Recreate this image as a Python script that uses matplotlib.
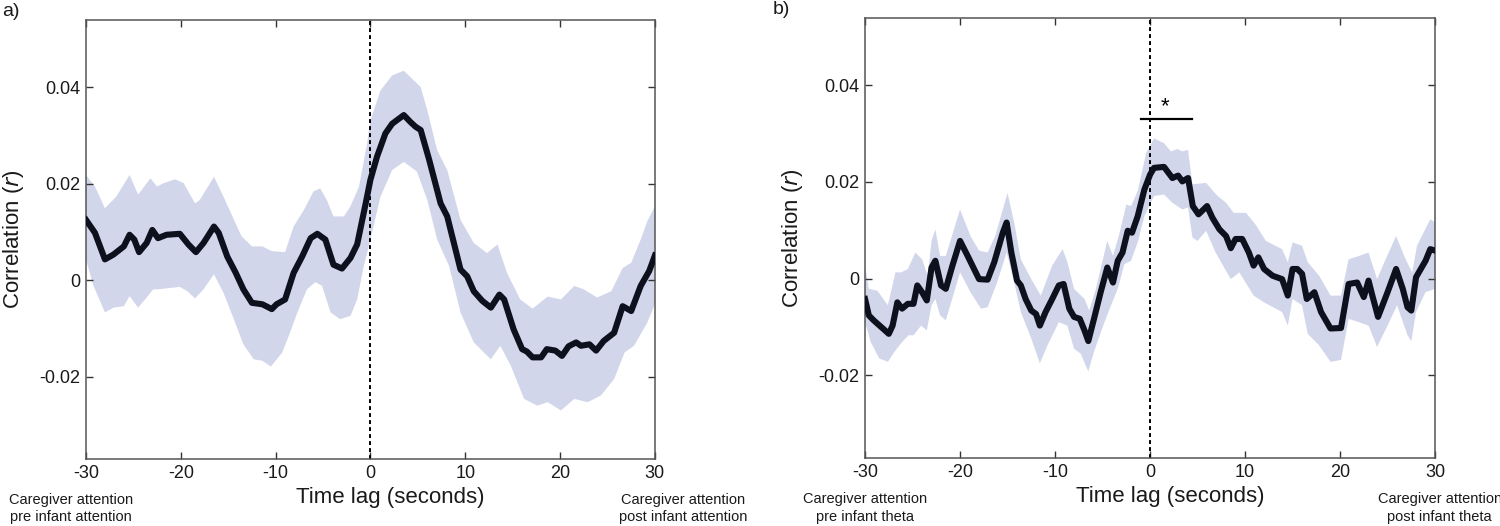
import numpy as np
import matplotlib
matplotlib.use("Agg")
import matplotlib.pyplot as plt
import matplotlib.transforms as mtransforms

plt.rcParams['font.family'] = ['Liberation Sans', 'DejaVu Sans']

# ---- panel a: caregiver attention vs infant attention ----
a_t = [-30, -29.05, -28.0, -27.1, -26.0, -25.4, -24.9, -24.4, -23.6, -23.0, -22.4, -21.5,
       -20.1, -19.2, -18.4, -17.6, -16.5, -16.0, -15.1, -14.2, -13.4, -12.5, -11.4, -10.4,
       -9.9, -9.0, -8.1, -7.2, -6.3, -5.6, -4.75, -3.9, -3.0, -2.1, -1.4, -0.5, 0.0, 0.7,
       1.58, 2.29, 3.52, 4.2, 4.75, 5.3, 6.2, 7.4, 8.1, 9.5, 10.2, 10.9, 11.8, 12.7, 13.6,
       14.1, 15.1, 16.0, 16.5, 17.1, 18.0, 18.6, 19.5, 20.2, 20.9, 21.7, 22.2, 23.1, 23.8,
       24.6, 25.7, 26.6, 27.5, 28.5, 29.4, 30]
a_r = [0.0125, 0.0098, 0.0043, 0.0053, 0.0070, 0.0094, 0.0084, 0.0058, 0.0077, 0.0104,
       0.0087, 0.0094, 0.0096, 0.0074, 0.0058, 0.0077, 0.0111, 0.0098, 0.0049, 0.0015,
       -0.0019, -0.0047, -0.0050, -0.0060, -0.0050, -0.0040, 0.0015, 0.0049, 0.0087, 0.0096,
       0.0084, 0.0032, 0.0024, 0.0046, 0.0074, 0.0159, 0.0208, 0.0256, 0.0304, 0.0324,
       0.0342, 0.0328, 0.0318, 0.0311, 0.0249, 0.0159, 0.0132, 0.0022, 0.0008, -0.0023,
       -0.0043, -0.0057, -0.0030, -0.0040, -0.0102, -0.0143, -0.0148, -0.0160, -0.0160,
       -0.0143, -0.0146, -0.0157, -0.0137, -0.0129, -0.0136, -0.0133, -0.0146, -0.0126,
       -0.0109, -0.0054, -0.0064, -0.0012, 0.0019, 0.0051]

a_up_t = [-30, -29.05, -28.0, -26.8, -25.4, -24.5, -23.2, -22.5, -21.8, -20.6, -19.7, -18.5,
          -18.0, -16.5, -15.5, -13.6, -12.5, -11.4, -10.4, -9.0, -8.1, -7.0, -6.0, -5.3,
          -4.6, -3.9, -2.8, -2.1, -1.2, -0.35, 0.0, 1.06, 2.29, 3.52, 4.4, 5.3, 6.0, 7.04,
          8.1, 9.5, 10.9, 12.3, 13.4, 14.4, 15.8, 17.1, 18.7, 20.1, 21.5, 22.5, 23.9, 25.4,
          26.6, 27.5, 28.5, 29.2, 30]
a_up = [0.0218, 0.0194, 0.0149, 0.0173, 0.0218, 0.0177, 0.0211, 0.0194, 0.0201, 0.0209,
        0.0201, 0.0159, 0.0166, 0.0214, 0.0173, 0.0091, 0.0070, 0.0070, 0.0060, 0.0058,
        0.0111, 0.0146, 0.0184, 0.0190, 0.0166, 0.0132, 0.0132, 0.0153, 0.0194, 0.0283,
        0.0331, 0.0393, 0.0424, 0.0434, 0.0417, 0.0400, 0.0352, 0.0269, 0.0228, 0.0125,
        0.0077, 0.0056, 0.0074, 0.0015, -0.0040, -0.0059, -0.0034, -0.0040, -0.0012,
        -0.0019, -0.0036, -0.0023, 0.0025, 0.0036, 0.0084, 0.0122, 0.0153]

a_lo_t = [-30, -29.2, -28.0, -27.1, -26.0, -25.4, -24.5, -23.6, -22.9, -22.4, -20.1, -19.3,
          -18.5, -17.6, -16.5, -15.5, -14.4, -13.4, -12.3, -11.4, -10.5, -9.3, -8.6, -7.7,
          -6.7, -5.8, -5.1, -4.2, -3.2, -2.1, -1.4, -0.7, 0.0, 1.06, 2.29, 3.52, 4.9, 6.0,
          7.04, 8.3, 9.5, 10.9, 12.7, 13.7, 14.8, 16.2, 17.6, 18.7, 20.1, 21.5, 22.9, 24.3,
          25.7, 26.8, 27.8, 29.2, 30]
a_lo = [0.0043, -0.0012, -0.0067, -0.0057, -0.0054, -0.0033, -0.0057, -0.0036, -0.0019,
        -0.0019, -0.0014, -0.0023, -0.0038, -0.0019, 0.0012, -0.0026, -0.0081, -0.0133,
        -0.0164, -0.0167, -0.0179, -0.0150, -0.0115, -0.0067, -0.0019, -0.0004, -0.0012,
        -0.0067, -0.0081, -0.0074, -0.0040, 0.0029, 0.0084, 0.0173, 0.0228, 0.0245, 0.0225,
        0.0166, 0.0084, 0.0029, -0.0067, -0.0129, -0.0164, -0.0136, -0.0177, -0.0246,
        -0.0260, -0.0253, -0.0270, -0.0246, -0.0253, -0.0239, -0.0205, -0.0150, -0.0136,
        -0.0088, -0.0050]

# ---- panel b: caregiver attention vs infant theta ----
b_t = [-30, -29.6, -29.1, -28.3, -27.5, -27.1, -26.6, -26.1, -25.5, -24.9, -24.5, -24.0,
       -23.5, -23.0, -22.6, -22.0, -21.5, -20.8, -20.0, -19.2, -18.0, -17.1, -16.4, -15.5,
       -15.1, -14.6, -14.0, -13.6, -13.1, -12.5, -12.0, -11.6, -11.0, -10.3, -9.6, -9.1,
       -8.5, -8.0, -7.4, -6.9, -6.5, -5.9, -5.2, -4.5, -3.9, -3.4, -2.9, -2.35, -1.9, -1.3,
       -0.6, 0.0, 0.42, 1.47, 2.35, 2.95, 3.4, 4.0, 4.5, 5.1, 6.0, 6.56, 7.3, 8.0, 8.5, 9.0,
       9.7, 10.4, 10.9, 11.4, 12.0, 12.9, 13.9, 14.5, 15.0, 15.5, 16.0, 16.5, 17.3, 18.0,
       19.0, 20.1, 20.9, 21.8, 22.5, 23.0, 23.4, 24.0, 25.0, 25.9, 26.6, 27.1, 27.5, 28.0,
       29.0, 29.5, 30]
b_r = [-0.0042, -0.0076, -0.0086, -0.0100, -0.0114, -0.0097, -0.0049, -0.0062, -0.0052,
       -0.0052, -0.0014, -0.0028, -0.0045, 0.0023, 0.0037, -0.0014, -0.0021, 0.0027, 0.0078,
       0.0047, -0.0001, -0.0002, 0.0034, 0.0095, 0.0116, 0.0054, -0.0004, -0.0014, -0.0042,
       -0.0066, -0.0073, -0.0097, -0.0069, -0.0042, -0.0014, -0.0011, -0.0062, -0.0079,
       -0.0083, -0.0107, -0.0129, -0.0083, -0.0028, 0.0023, -0.0008, 0.0037, 0.0054, 0.0099,
       0.0095, 0.0129, 0.0184, 0.0215, 0.0229, 0.0231, 0.0208, 0.0213, 0.0201, 0.0208,
       0.0150, 0.0133, 0.0150, 0.0126, 0.0102, 0.0088, 0.0063, 0.0082, 0.0082, 0.0054,
       0.0027, 0.0044, 0.0020, 0.0006, -0.0001, -0.0035, 0.0020, 0.0020, 0.0010, -0.0042,
       -0.0028, -0.0069, -0.0103, -0.0102, -0.0011, -0.0008, -0.0038, -0.0004, -0.0035,
       -0.0079, -0.0028, 0.0020, -0.0021, -0.0059, -0.0066, 0.0003, 0.0037, 0.0061, 0.0058]

b_up_t = [-30, -29.6, -28.7, -27.6, -26.8, -26.2, -25.5, -24.7, -24.0, -23.4, -23.0, -22.6,
          -22.1, -21.5, -20.0, -18.9, -18.0, -17.1, -16.3, -15.0, -14.3, -13.6, -12.5, -11.5,
          -10.3, -9.2, -8.7, -8.0, -6.9, -6.4, -5.7, -4.5, -3.9, -3.2, -2.5, -2.0, -1.3, -0.4,
          0.42, 1.47, 2.2, 2.88, 3.4, 4.0, 4.46, 5.9, 7.1, 8.0, 8.8, 10.1, 11.1, 12.2, 13.9,
          14.5, 15.0, 16.0, 16.6, 17.8, 19.0, 20.1, 20.9, 22.0, 23.0, 23.9, 24.8, 25.9, 26.9,
          27.6, 28.1, 29.5, 30]
b_up = [0.0027, -0.0021, -0.0025, -0.0055, 0.0013, 0.0013, 0.0020, 0.0054, 0.0040, 0.0006,
        0.0078, 0.0102, 0.0047, 0.0047, 0.0143, 0.0088, 0.0058, 0.0054, 0.0088, 0.0177,
        0.0116, 0.0040, -0.0001, -0.0035, 0.0027, 0.0061, 0.0034, -0.0021, -0.0042, -0.0066,
        -0.0021, 0.0078, 0.0047, 0.0095, 0.0153, 0.0150, 0.0181, 0.0260, 0.0290, 0.0280,
        0.0263, 0.0268, 0.0263, 0.0266, 0.0195, 0.0198, 0.0171, 0.0157, 0.0136, 0.0136,
        0.0112, 0.0078, 0.0061, 0.0034, 0.0075, 0.0068, 0.0034, 0.0006, -0.0035, -0.0035,
        0.0040, 0.0047, 0.0054, -0.0001, 0.0040, 0.0088, 0.0040, 0.0013, 0.0068, 0.0123,
        0.0116]

b_lo_t = [-30, -29.4, -28.5, -27.6, -26.9, -26.1, -25.4, -24.9, -24.1, -23.5, -23.0, -22.6,
          -22.1, -21.5, -20.0, -18.9, -17.8, -17.1, -16.1, -15.1, -14.3, -13.6, -12.5, -11.6,
          -10.8, -9.6, -8.7, -8.0, -7.3, -6.5, -5.9, -4.8, -4.1, -3.4, -2.7, -2.0, -1.3, -0.6,
          0.42, 1.47, 2.35, 3.4, 4.0, 4.46, 5.0, 5.9, 6.9, 8.5, 9.4, 10.9, 12.0, 13.9, 14.5,
          15.0, 16.0, 16.6, 17.8, 19.0, 20.1, 20.9, 22.0, 23.0, 23.9, 25.0, 26.0, 27.1, 27.5,
          28.0, 29.0, 30]
b_lo = [-0.0090, -0.0131, -0.0165, -0.0172, -0.0151, -0.0131, -0.0117, -0.0117, -0.0097,
        -0.0107, -0.0055, -0.0042, -0.0076, -0.0086, 0.0013, -0.0028, -0.0062, -0.0059,
        -0.0008, 0.0054, -0.0008, -0.0069, -0.0124, -0.0175, -0.0138, -0.0090, -0.0097,
        -0.0145, -0.0155, -0.0192, -0.0151, -0.0090, -0.0055, -0.0021, 0.0030, 0.0037,
        0.0075, 0.0129, 0.0171, 0.0174, 0.0157, 0.0143, 0.0147, 0.0085, 0.0078, 0.0099,
        0.0054, -0.0001, 0.0013, -0.0035, -0.0049, -0.0069, -0.0097, -0.0042, -0.0055,
        -0.0114, -0.0138, -0.0172, -0.0168, -0.0083, -0.0090, -0.0097, -0.0141, -0.0097,
        -0.0055, -0.0117, -0.0129, -0.0069, -0.0028, -0.0021]

# significant cluster in panel b
sig_start, sig_end, sig_y = -0.98, 4.46, 0.0330

band_color = '#d2d6ea'
line_color = '#0d111e'

fig = plt.figure(figsize=(15, 5.26), dpi=100)
ax_a = fig.add_axes([0.0573, 0.127, 0.3793, 0.835])
ax_b = fig.add_axes([0.5767, 0.129, 0.3800, 0.837])

panels = [
    (ax_a, a_t, a_r, a_up_t, a_up, a_lo_t, a_lo, 'a)', -0.147,
     'pre infant attention', 'post infant attention', -31.6, 33.0),
    (ax_b, b_t, b_r, b_up_t, b_up, b_lo_t, b_lo, 'b)', -0.162,
     'pre infant theta', 'post infant theta', -30.0, 30.5),
]

for ax, t, r, ut, up, lt, lo, tag, tag_x, pre, post, xl, xr in panels:
    poly_x = np.concatenate([ut, lt[::-1]])
    poly_y = np.concatenate([up, lo[::-1]])
    ax.fill(poly_x, poly_y, color=band_color, lw=0, zorder=1)
    ax.plot(t, r, color=line_color, lw=4.4, solid_joinstyle='round', zorder=3)
    ax.axvline(0, color='black', lw=1.4, ls=(0, (2, 1.6)), zorder=2)

    ax.set_xlim(-30, 30)
    ax.set_ylim(-0.0371, 0.0539)
    ax.set_xticks([-30, -20, -10, 0, 10, 20, 30])
    ax.set_xticklabels(['-30', '-20', '-10', '0', '10', '20', '30'])
    ax.set_yticks([-0.02, 0, 0.02, 0.04])
    ax.set_yticklabels(['-0.02', '0', '0.02', '0.04'])
    ax.tick_params(direction='in', length=5, width=1, top=True, right=True,
                   labelsize=13, colors='#333333', labelcolor='#1a1a1a', pad=4)
    for sp in ax.spines.values():
        sp.set_color('#555555')
        sp.set_linewidth(1.1)

    ax.set_ylabel('Correlation ($\\it{r}$)', fontsize=16, labelpad=10, color='#1a1a1a')
    ax.text(0.535, -0.087, 'Time lag (seconds)', transform=ax.transAxes,
            ha='center', va='center', fontsize=16, color='#1a1a1a')

    trans = mtransforms.blended_transform_factory(ax.transData, ax.transAxes)
    ax.text(xl, -0.113, 'Caregiver attention\n' + pre, transform=trans, ha='center',
            va='center', fontsize=10.5, linespacing=1.3, color='#1a1a1a', clip_on=False)
    ax.text(xr, -0.113, 'Caregiver attention\n' + post, transform=trans, ha='center',
            va='center', fontsize=10.5, linespacing=1.3, color='#1a1a1a', clip_on=False)

    ax.text(tag_x, 1.02, tag, transform=ax.transAxes, ha='left', va='center',
            fontsize=14, color='#1a1a1a')

ax_b.plot([sig_start, sig_end], [sig_y, sig_y], color='black', lw=1.6, zorder=4)
ax_b.text((sig_start + sig_end) / 2 - 0.2, sig_y + 0.0004, '*', ha='center', va='bottom',
          fontsize=16, color='black')

fig.savefig('out.png', dpi=100)
